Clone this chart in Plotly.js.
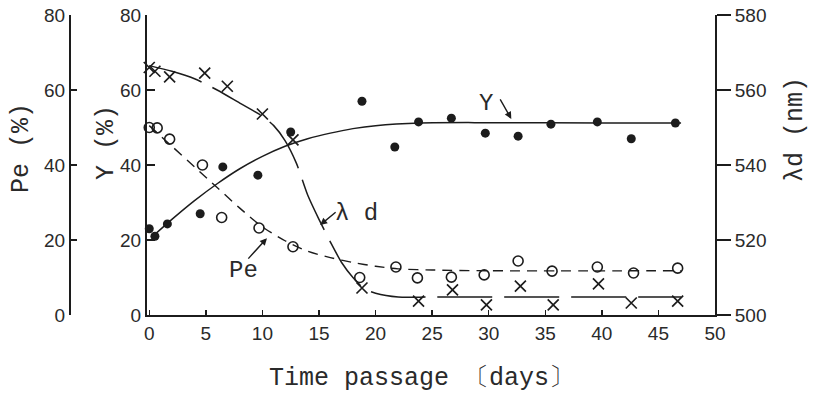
<!DOCTYPE html>
<html>
<head>
<meta charset="utf-8">
<script src="https://cdn.plot.ly/plotly-3.0.1.min.js"></script>
<style>html,body{margin:0;padding:0;background:#fff;}</style>
</head>
<body>
<div id="chart" style="width:815px;height:395px;"></div>
<script>
// ---- data ----
// Y (%) measured points (filled circles)
const yDays = [0, 0.5, 1.6, 4.5, 6.5, 9.6, 12.5, 18.8, 21.7, 23.8, 26.7, 29.7, 32.6, 35.5, 39.6, 42.6, 46.5];
const yVals = [23, 21, 24.3, 27, 39.5, 37.3, 48.8, 57, 44.8, 51.5, 52.5, 48.5, 47.7, 50.9, 51.5, 47, 51.2];
// Y fitted curve
const yFitDays = [0.5, 2, 4, 6, 8, 10, 12, 14, 16, 18, 20, 24, 30, 40, 47];
const yFitVals = [21.5, 25.5, 30.5, 35, 39, 42.3, 45, 47, 48.5, 49.7, 50.5, 51.2, 51.3, 51.2, 51.2];
// Pe (%) measured points (open circles)
const peDays = [0, 0.7, 1.8, 4.7, 6.4, 9.7, 12.7, 18.6, 21.8, 23.7, 26.7, 29.6, 32.6, 35.6, 39.6, 42.8, 46.7];
const peVals = [50, 49.9, 46.9, 40, 26, 23.2, 18.2, 10, 12.8, 9.9, 10.1, 10.7, 14.4, 11.7, 12.8, 11.2, 12.5];
// Pe fitted curve
const peFitDays = [0, 2, 4, 6, 8, 10, 12, 14, 16, 18, 20, 22, 25, 30, 47];
const peFitVals = [50.5, 45, 39.5, 34, 28.5, 23.5, 19.8, 17, 15.3, 14, 13, 12.3, 12, 11.8, 11.8];
// lambda d (nm) measured points (crosses)
const ldDays = [0, 0.5, 1.8, 4.9, 6.9, 10, 12.7, 18.8, 23.8, 26.8, 29.8, 32.8, 35.7, 39.7, 42.6, 46.7];
const ldVals = [566, 565, 563.5, 564.5, 561, 553.6, 546.7, 507.2, 503.7, 506.7, 502.7, 507.7, 502.7, 508.3, 503.2, 503.7];
// lambda d fitted curve
const ldFitDays = [0, 2, 4, 6, 8, 10, 11, 12, 13, 14, 15, 16, 17, 18, 19, 20, 22, 25, 47];
const ldFitVals = [566.5, 565, 563, 560, 556.5, 553, 550.5, 546.5, 540.5, 532, 525.5, 519.5, 514, 510, 507, 505.8, 504.8, 504.8, 504.8];
// ticks
const xTicks = [0, 5, 10, 15, 20, 25, 30, 35, 40, 45, 50];
const pctTicks = [0, 20, 40, 60, 80];
const nmTicks = [500, 520, 540, 560, 580];

const ink = '#1c1c1c';
const tickFont = {family: 'Liberation Sans, Arial, sans-serif', size: 19, color: '#2a2a2a'};
const monoTitle = {family: 'Liberation Mono, Courier New, monospace', size: 25, color: '#2a2a2a'};
const monoLabel = {family: 'Liberation Mono, Courier New, monospace', size: 24, color: '#2a2a2a'};

const traces = [
  {x: yFitDays, y: yFitVals, yaxis: 'y', mode: 'lines', line: {color: ink, width: 1.5, shape: 'spline', smoothing: 0.8}, hoverinfo: 'skip'},
  {x: peFitDays, y: peFitVals, yaxis: 'y3', mode: 'lines', line: {color: ink, width: 1.4, dash: '10px,7px', shape: 'spline', smoothing: 0.8}, hoverinfo: 'skip'},
  {x: ldFitDays, y: ldFitVals, yaxis: 'y2', mode: 'lines', line: {color: ink, width: 1.5, dash: '55px,12px', shape: 'spline', smoothing: 0.7}, hoverinfo: 'skip'},
  {x: yDays, y: yVals, yaxis: 'y', mode: 'markers', cliponaxis: false, marker: {symbol: 'circle', size: 9, color: ink}},
  {x: peDays, y: peVals, yaxis: 'y3', mode: 'markers', cliponaxis: false, marker: {symbol: 'circle-open', size: 10, color: ink, line: {width: 1.6, color: ink}}},
  {x: ldDays, y: ldVals, yaxis: 'y2', mode: 'markers', cliponaxis: false, marker: {symbol: 'x-thin-open', size: 11, color: ink, line: {width: 1.7, color: ink}}}
];

const L = 10, R = 100, T = 15, B = 80, W = 815, H = 395;
const pw = W - L - R, ph = H - T - B;
const px = v => (v - L) / pw;
const py = v => (H - B - v) / ph;

function note(x, y, text, extra) {
  return Object.assign({xref: 'paper', yref: 'paper', x: px(x), y: py(y), text: text,
    showarrow: false, xanchor: 'center', yanchor: 'middle', font: monoTitle}, extra || {});
}

const layout = {
  width: W, height: H,
  margin: {l: L, r: R, t: T, b: B, pad: 0},
  paper_bgcolor: '#fff', plot_bgcolor: '#fff',
  showlegend: false,
  xaxis: {
    domain: [px(147), 1], range: [-0.2, 50],
    tickvals: xTicks, ticks: 'inside', ticklen: 5, tickwidth: 1.5, tickcolor: ink,
    showline: true, linewidth: 2, linecolor: ink, showgrid: false, zeroline: false,
    tickfont: tickFont
  },
  yaxis: {
    range: [0, 80], tickvals: pctTicks, anchor: 'x',
    ticks: 'inside', ticklen: 8, tickwidth: 1.5, tickcolor: ink,
    showline: true, linewidth: 2, linecolor: ink, showgrid: false, zeroline: false,
    tickfont: tickFont
  },
  yaxis3: {
    range: [0, 80], tickvals: pctTicks, overlaying: 'y', anchor: 'free', position: px(70), side: 'left',
    ticks: 'inside', ticklen: 6, tickwidth: 1.5, tickcolor: ink,
    showline: true, linewidth: 2, linecolor: ink, showgrid: false, zeroline: false,
    tickfont: tickFont
  },
  yaxis2: {
    range: [500, 580], tickvals: nmTicks, overlaying: 'y', side: 'right', anchor: 'x',
    ticks: 'outside', ticklen: 14, tickwidth: 1.5, tickcolor: ink,
    showline: true, linewidth: 2, linecolor: ink, showgrid: false, zeroline: false,
    tickfont: tickFont
  },
  annotations: [
    note(422, 378, 'Time passage 〔days〕'),
    note(21, 148, 'Pe (%)', {textangle: -90}),
    note(106, 143, 'Y (%)', {textangle: -90}),
    note(795, 130, 'λd (nm)', {textangle: -90}),
    {xref: 'x', yref: 'y', x: 29.8, y: 56.5, text: 'Y', showarrow: false, font: monoLabel},
    {xref: 'x', yref: 'y', x: 32, y: 52.3, text: '', showarrow: true, arrowhead: 2, arrowsize: 1, arrowwidth: 1.4, arrowcolor: ink, ax: -12, ay: -21},
    {xref: 'x', yref: 'y', x: 18.3, y: 27.2, text: 'λ d', showarrow: false, font: monoLabel},
    {xref: 'x', yref: 'y', x: 15.1, y: 24, text: '', showarrow: true, arrowhead: 2, arrowsize: 1, arrowwidth: 1.4, arrowcolor: ink, ax: 17, ay: -14},
    {xref: 'x', yref: 'y', x: 8.3, y: 12, text: 'Pe', showarrow: false, font: monoLabel},
    {xref: 'x', yref: 'y', x: 10.4, y: 20.5, text: '', showarrow: true, arrowhead: 2, arrowsize: 1, arrowwidth: 1.4, arrowcolor: ink, ax: -20, ay: 22}
  ]
};

Plotly.newPlot('chart', traces, layout, {displayModeBar: false, staticPlot: true});
</script>
</body>
</html>
